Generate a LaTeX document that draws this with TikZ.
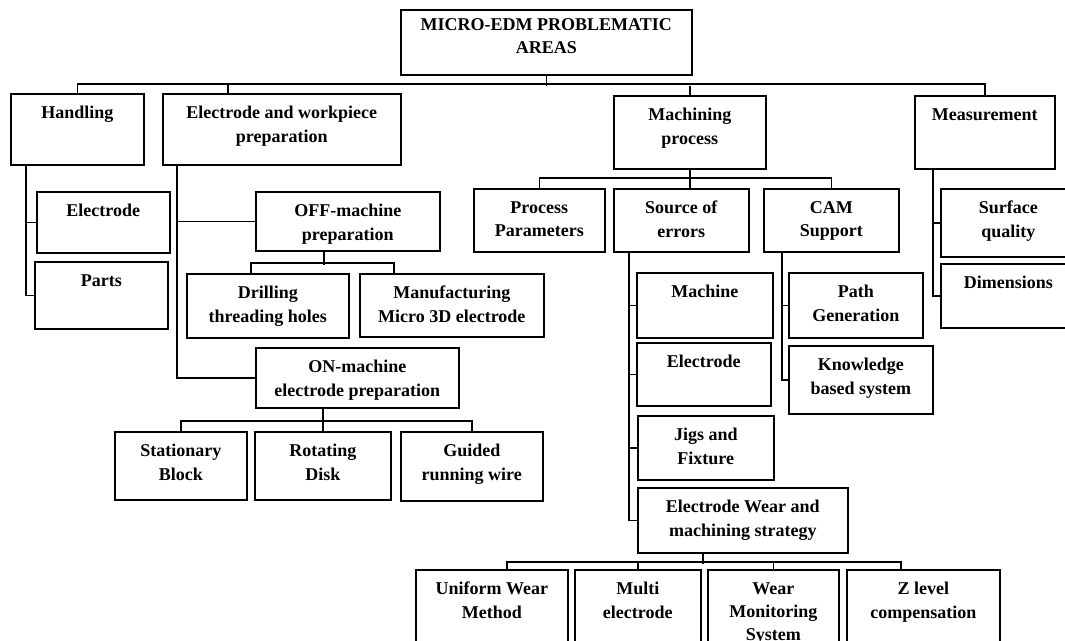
\documentclass[tikz,border=0pt]{standalone}
\usepackage{fontspec}
\setmainfont{Liberation Serif}
\usetikzlibrary{calc}

\begin{document}
\begin{tikzpicture}[
  x=0.75pt,
  y=-0.75pt,
  box/.style 2 args={draw, line width=1.2pt, anchor=north west, inner sep=0pt,
    minimum width=#1*0.75pt, minimum height=#2*0.75pt},
  txt/.style={anchor=north, yshift=-9.75pt, inner sep=0pt, align=center,
    font=\fontsize{13.5}{17.6}\selectfont\bfseries},
  wire/.style={line width=1.2pt}
]
\useasboundingbox (0,0) rectangle (1065,640);
\clip (0,0) rectangle (1065,640);

% root and the four problem areas
\node[box={291}{65}, label={[txt, yshift=3pt]north:{MICRO-EDM PROBLEMATIC\\AREAS}}] (root) at (400,9) {};
\node[box={133}{71}, label={[txt]north:{Handling}}] (hand) at (10,93) {};
\node[box={238}{71}, label={[txt]north:{Electrode and workpiece\\preparation}}] (ewp) at (162,93) {};
\node[box={152}{73}, label={[txt]north:{Machining\\process}}] (mach) at (613,95) {};
\node[box={140}{73}, label={[txt]north:{Measurement}}] (meas) at (914,95) {};

% handling
\node[box={133}{61}, label={[txt]north:{Electrode}}] (helec) at (36,191) {};
\node[box={133}{67}, label={[txt]north:{Parts}}] (parts) at (34,261) {};

% electrode and workpiece preparation
\node[box={184}{59}, label={[txt]north:{OFF-machine\\preparation}}] (off) at (255,191) {};
\node[box={162}{64}, label={[txt]north:{Drilling\\threading holes}}] (drill) at (186,273) {};
\node[box={184}{63}, label={[txt]north:{Manufacturing\\Micro 3D electrode}}] (manu) at (359,273) {};
\node[box={203}{60}, label={[txt]north:{ON-machine\\electrode preparation}}] (on) at (255,347) {};
\node[box={132}{68}, label={[txt]north:{Stationary\\Block}}] (stat) at (114,431) {};
\node[box={136}{68}, label={[txt]north:{Rotating\\Disk}}] (rot) at (254,431) {};
\node[box={142}{69}, label={[txt]north:{Guided\\running wire}}] (guid) at (400,431) {};

% machining process
\node[box={131}{63}, label={[txt]north:{Process\\Parameters}}] (proc) at (473,188) {};
\node[box={135}{63}, label={[txt]north:{Source of\\errors}}] (src) at (613,188) {};
\node[box={135}{63}, label={[txt]north:{CAM\\Support}}] (cam) at (763,188) {};
\node[box={136}{65}, label={[txt]north:{Machine}}] (machine) at (636,272) {};
\node[box={134}{63}, label={[txt]north:{Electrode}}] (selec) at (636,342) {};
\node[box={136}{64}, label={[txt]north:{Jigs and\\Fixture}}] (jigs) at (637,415) {};
\node[box={210}{65}, label={[txt]north:{Electrode Wear and\\machining strategy}}] (ew) at (637,487) {};
\node[box={152}{90}, label={[txt]north:{Uniform Wear\\Method}}] (uni) at (415,569) {};
\node[box={126}{90}, label={[txt]north:{Multi\\electrode}}] (multi) at (574,569) {};
\node[box={131}{90}, label={[txt]north:{Wear\\Monitoring\\System}}] (wear) at (707,569) {};
\node[box={153}{90}, label={[txt]north:{Z level\\compensation}}] (zlev) at (846,569) {};
\node[box={134}{65}, label={[txt]north:{Path\\Generation}}] (path) at (788,272) {};
\node[box={144}{68}, label={[txt]north:{Knowledge\\based system}}] (know) at (788,345) {};

% measurement
\node[box={135}{68}, label={[txt]north:{Surface\\quality}}] (surf) at (940,188) {};
\node[box={135}{64}, label={[txt]north:{Dimensions}}] (dims) at (940,263) {};

% top bus
\draw[wire] (root.south) -- ++(0,10);
\draw[wire] (hand.north) -- ++(0,-9) -| (meas.north);
\draw[wire] ($(ewp.north west)+(66,0)$) -- ++(0,-9);
\draw[wire] (mach.north) -- ++(0,-9);

% side branches
\draw[wire] ($(hand.south west)+(16,0)$) |- (helec.west);
\draw[wire] ($(hand.south west)+(16,0)$) |- (parts.west);
\draw[wire] ($(ewp.south west)+(15,0)$) |- (off.west);
\draw[wire] ($(ewp.south west)+(15,0)$) |- (on.west);
\draw[wire] ($(src.south west)+(16,0)$) |- (machine.west);
\draw[wire] ($(src.south west)+(16,0)$) |- (selec.west);
\draw[wire] ($(src.south west)+(16,0)$) |- (jigs.west);
\draw[wire] ($(src.south west)+(16,0)$) |- (ew.west);
\draw[wire] ($(cam.south west)+(19,0)$) |- (path.west);
\draw[wire] ($(cam.south west)+(19,0)$) |- (know.west);
\draw[wire] ($(meas.south west)+(19,0)$) |- (surf.west);
\draw[wire] ($(meas.south west)+(19,0)$) |- (dims.west);

% lower buses
\draw[wire] ($(off.south west)+(69,0)$) -- ++(0,13);
\draw[wire] ($(drill.north west)+(65,0)$) -- ++(0,-10) -| ($(manu.north west)+(35,0)$);
\draw[wire] (on.south -| rot.north) -- (rot.north);
\draw[wire] (stat.north) -- ++(0,-10) -| (guid.north);
\draw[wire] (mach.south) -- (src.north -| mach.south);
\draw[wire] (proc.north) -- ++(0,-10) -| (cam.north);
\draw[wire] ($(ew.south west)+(66,0)$) -- ++(0,10);
\draw[wire] ($(uni.north west)+(92,0)$) -- ++(0,-7) -| ($(zlev.north west)+(55,0)$);
\draw[wire] (multi.north) -- ++(0,-7);
\draw[wire] (wear.north) -- ++(0,-7);
\end{tikzpicture}
\end{document}
